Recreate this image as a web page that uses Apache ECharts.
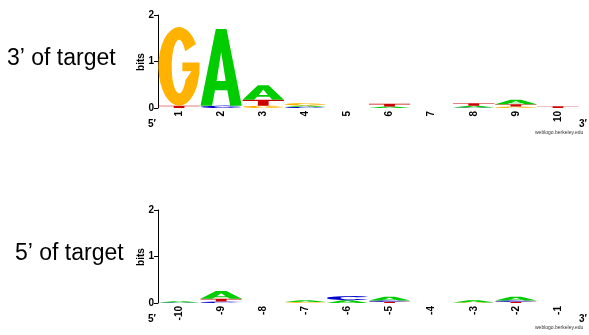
<!DOCTYPE html>
<html><head><meta charset="utf-8">
<script src="https://cdn.jsdelivr.net/npm/echarts@6/dist/echarts.min.js"></script>
<style>html,body{margin:0;padding:0;background:#fff}#c{width:589px;height:335px}</style>
</head><body><div id="c"></div><script>
// Position labels
const topPositions = ['1','2','3','4','5','6','7','8','9','10'];
const bottomPositions = ['-10','-9','-8','-7','-6','-5','-4','-3','-2','-1'];
const yTicks = [0, 1, 2];

// Letter heights (bits) per position — 3' of target
const topA = [0, 1.65, 0.31, 0.03, 0, 0.03, 0, 0.04, 0.10, 0];
const topC = [0, 0.05, 0, 0.025, 0, 0, 0, 0.01, 0, 0];
const topG = [1.69, 0, 0.05, 0.05, 0, 0, 0, 0, 0.03, 0];
const topT = [0.05, 0, 0.13, 0, 0, 0.06, 0, 0.05, 0.05, 0.04];

// Letter heights (bits) per position — 5' of target
const botA = [0.03, 0.17, 0, 0.04, 0.06, 0.08, 0, 0.05, 0.08, 0];
const botC = [0.01, 0.03, 0, 0, 0.09, 0.03, 0, 0, 0.03, 0];
const botG = [0, 0, 0, 0.02, 0, 0, 0, 0.01, 0, 0];
const botT = [0, 0.06, 0, 0, 0, 0.025, 0, 0, 0.025, 0];

const bases = ['A', 'C', 'G', 'T'];
const COLORS = {A: '#00CC00', C: '#0000CC', G: '#FFB300', T: '#CC0000'};
const PATHS = {
  A: 'M0,100 L37,0 L63,0 L100,100 L72,100 L65,80 L35,80 L28,100 Z M39,68 L61,68 L50,30 Z',
  T: 'M0,0 L100,0 L100,22 L63,22 L63,100 L37,100 L37,22 L0,22 Z',
  C: 'M91,21.3 A50,50 0 1 0 91,78.7 L66.4,68.4 A20,32 0 1 1 66.4,31.6 Z',
  G: 'M91,21.3 A50,50 0 1 0 99.7,45 L58,45 L58,56 L80,56 L65.6,67 A18,34 0 1 1 64.7,30.5 Z'
};

function stackData(arrs) {
  const out = [];
  const n = arrs[0].length;
  for (let i = 0; i < n; i++) {
    const items = bases.map((b, k) => ({k: k, h: arrs[k][i]}))
      .filter(d => d.h > 0).sort((a, b) => a.h - b.h);
    let y = 0;
    items.forEach(d => { out.push([i, y, y + d.h, d.k]); y += d.h; });
  }
  return out;
}

function renderItem(params, api) {
  const x = api.value(0), y0 = api.value(1), y1 = api.value(2), k = api.value(3);
  const p0 = api.coord([x, y0]), p1 = api.coord([x, y1]);
  const w = api.size([1, 0])[0] * 0.98;
  const b = bases[k];
  return {
    type: 'path',
    shape: {pathData: PATHS[b], x: p0[0] - w / 2, y: p1[1], width: w,
            height: Math.max(p0[1] - p1[1], 0.4), layout: 'cover'},
    style: {fill: COLORS[b]}
  };
}

const FONT = 'Liberation Sans, Arial, Helvetica, sans-serif';
const grids = [
  {left: 158, right: 10, top: 15, height: 93},
  {left: 158, right: 10, top: 210, height: 93}
];
function xAx(i, cats) {
  return {type: 'category', gridIndex: i, data: cats, boundaryGap: true,
    axisLine: {show: false}, axisTick: {show: false},
    axisLabel: {rotate: 90, margin: 3, fontSize: 10, fontWeight: 'bold', color: '#000', fontFamily: FONT}};
}
function yAx(i) {
  return {type: 'value', gridIndex: i, min: yTicks[0], max: yTicks[yTicks.length - 1], interval: 1,
    axisLine: {show: true, lineStyle: {color: '#000', width: 1}},
    axisTick: {show: true, length: 4, lineStyle: {color: '#000'}},
    axisLabel: {margin: 4, fontSize: 10, fontWeight: 'bold', color: '#000', fontFamily: FONT},
    splitLine: {show: false}};
}

const chart = echarts.init(document.getElementById('c'), null, {renderer: 'canvas'});
chart.setOption({
  animation: false,
  backgroundColor: '#fff',
  grid: grids,
  xAxis: [xAx(0, topPositions), xAx(1, bottomPositions)],
  yAxis: [yAx(0), yAx(1)],
  series: [
    {type: 'custom', xAxisIndex: 0, yAxisIndex: 0, renderItem: renderItem,
     encode: {x: 0, y: [1, 2]}, data: stackData([topA, topC, topG, topT])},
    {type: 'custom', xAxisIndex: 1, yAxisIndex: 1, renderItem: renderItem,
     encode: {x: 0, y: [1, 2]}, data: stackData([botA, botC, botG, botT])}
  ],
  graphic: [
    {type: 'text', left: 7, top: 47, style: {text: '3’ of target', font: '23px ' + FONT, fill: '#000'}},
    {type: 'text', left: 15, top: 242, style: {text: '5’ of target', font: '23px ' + FONT, fill: '#000'}},
    {type: 'text', x: 141, y: 62, rotation: Math.PI / 2,
     style: {text: 'bits', font: 'bold 10px ' + FONT, fill: '#000', textAlign: 'center', textVerticalAlign: 'middle'}},
    {type: 'text', x: 141, y: 257, rotation: Math.PI / 2,
     style: {text: 'bits', font: 'bold 10px ' + FONT, fill: '#000', textAlign: 'center', textVerticalAlign: 'middle'}},
    {type: 'text', left: 148, top: 119, style: {text: '5′', font: 'bold 10px ' + FONT, fill: '#000'}},
    {type: 'text', left: 579, top: 119, style: {text: '3′', font: 'bold 10px ' + FONT, fill: '#000'}},
    {type: 'text', left: 148, top: 314, style: {text: '5′', font: 'bold 10px ' + FONT, fill: '#000'}},
    {type: 'text', left: 579, top: 314, style: {text: '3′', font: 'bold 10px ' + FONT, fill: '#000'}},
    {type: 'text', left: 535, top: 130, style: {text: 'weblogo.berkeley.edu', font: '5px ' + FONT, fill: '#333'}},
    {type: 'text', left: 535, top: 325, style: {text: 'weblogo.berkeley.edu', font: '5px ' + FONT, fill: '#333'}}
  ]
});
</script></body></html>
